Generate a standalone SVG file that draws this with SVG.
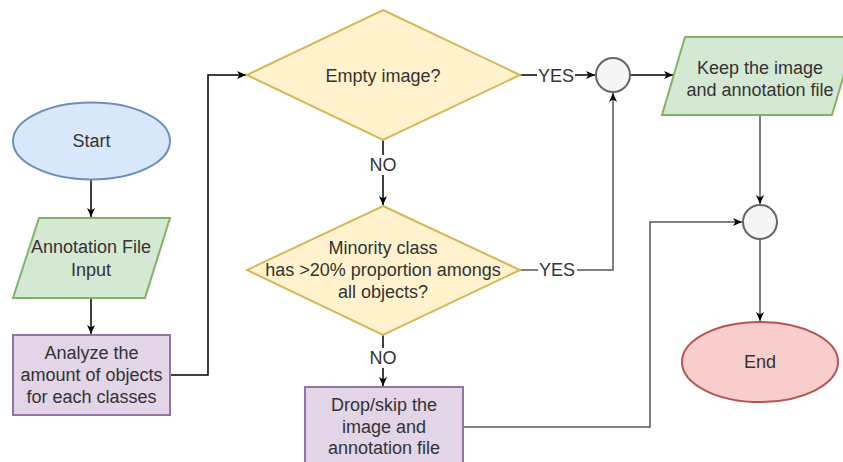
<svg xmlns="http://www.w3.org/2000/svg" width="843" height="462" viewBox="0 0 843 462">
  <style>
    text { font-family: "Liberation Sans", Arial, Helvetica, sans-serif; font-size: 18px; fill: #333333; text-anchor: middle; dominant-baseline: central; }
    .blue { fill: #dae8fc; stroke: #6c8ebf; stroke-width: 2; }
    .green { fill: #d5e8d4; stroke: #82b366; stroke-width: 2; }
    .purple { fill: #e1d5e7; stroke: #9673a6; stroke-width: 2; }
    .yellow { fill: #fff2cc; stroke: #d6b656; stroke-width: 2; }
    .red { fill: #f8cecc; stroke: #b85450; stroke-width: 2; }
    .join { fill: #f5f5f5; stroke: #666666; stroke-width: 2; }
    .edge { fill: none; stroke: #000000; stroke-width: 1.5; }
    .edge.gray { stroke: #555555; }
    .lbl { fill: #ffffff; stroke: none; }
  </style>
  <defs>
    <marker id="arrow" markerUnits="userSpaceOnUse" markerWidth="10" markerHeight="10" refX="9" refY="4" orient="auto">
      <path d="M0,0 L9,4 L0,8 L2.5,4 Z" fill="#000000"/>
    </marker>
  </defs>

  <rect width="843" height="462" fill="#ffffff"/>

  <!-- connectors -->
  <g id="connectors">
    <path class="edge" d="M91,180 V217" marker-end="url(#arrow)"/>
    <path class="edge" d="M91,298 V334" marker-end="url(#arrow)"/>
    <path class="edge" d="M170,375 H208 V75 H246" marker-end="url(#arrow)"/>
    <path class="edge" d="M520,75 H595" marker-end="url(#arrow)"/>
    <path class="edge" d="M383,140 V205" marker-end="url(#arrow)"/>
    <path class="edge gray" d="M520,270 H613 V93" marker-end="url(#arrow)"/>
    <path class="edge" d="M383,335 V386" marker-end="url(#arrow)"/>
    <path class="edge" d="M630,75 H673" marker-end="url(#arrow)"/>
    <path class="edge gray" d="M760,115 V204" marker-end="url(#arrow)"/>
    <path class="edge gray" d="M463,427 H650 V222 H742" marker-end="url(#arrow)"/>
    <path class="edge gray" d="M760,239 V321" marker-end="url(#arrow)"/>
    <!-- edge labels -->
    <rect class="lbl" x="537" y="66" width="38" height="20"/>
    <text x="556" y="76">YES</text>
    <rect class="lbl" x="538" y="261" width="39" height="20"/>
    <text x="557" y="270">YES</text>
    <rect class="lbl" x="368" y="155" width="30" height="20"/>
    <text x="383" y="165">NO</text>
    <rect class="lbl" x="368" y="348" width="30" height="20"/>
    <text x="383" y="358">NO</text>
  </g>

  <g id="start">
    <ellipse class="blue" cx="91.5" cy="141" rx="78.5" ry="38.5"/>
    <text x="91.5" y="141">Start</text>
  </g>

  <g id="annotation-input">
    <polygon class="green" points="39,218 170,218 145,298 13,298"/>
    <text x="91" y="247">Annotation File</text>
    <text x="91" y="270">Input</text>
  </g>

  <g id="analyze">
    <rect class="purple" x="13" y="335" width="157" height="80"/>
    <text x="91.5" y="353">Analyze the</text>
    <text x="91.5" y="375">amount of objects</text>
    <text x="91.5" y="397">for each classes</text>
  </g>

  <g id="empty-image">
    <polygon class="yellow" points="383,10 520,75 383,140 247,75"/>
    <text x="383" y="76">Empty image?</text>
  </g>

  <g id="minority-class">
    <polygon class="yellow" points="383,206 520,270 383,335 247,270"/>
    <text x="383" y="248">Minority class</text>
    <text x="383" y="270">has &gt;20% proportion amongs</text>
    <text x="383" y="292">all objects?</text>
  </g>

  <g id="drop">
    <rect class="purple" x="305" y="387" width="158" height="80"/>
    <text x="384" y="405">Drop/skip the</text>
    <text x="384" y="427">image and</text>
    <text x="384" y="448">annotation file</text>
  </g>

  <g id="join-keep">
    <circle class="join" cx="613" cy="75" r="17"/>
  </g>

  <g id="keep">
    <polygon class="green" points="685,37 855,37 832,115 662,115"/>
    <text x="760" y="68">Keep the image</text>
    <text x="760" y="90">and annotation file</text>
  </g>

  <g id="join-end">
    <circle class="join" cx="760" cy="222" r="17"/>
  </g>

  <g id="end">
    <ellipse class="red" cx="760" cy="362" rx="78" ry="40"/>
    <text x="760" y="362">End</text>
  </g>
</svg>
